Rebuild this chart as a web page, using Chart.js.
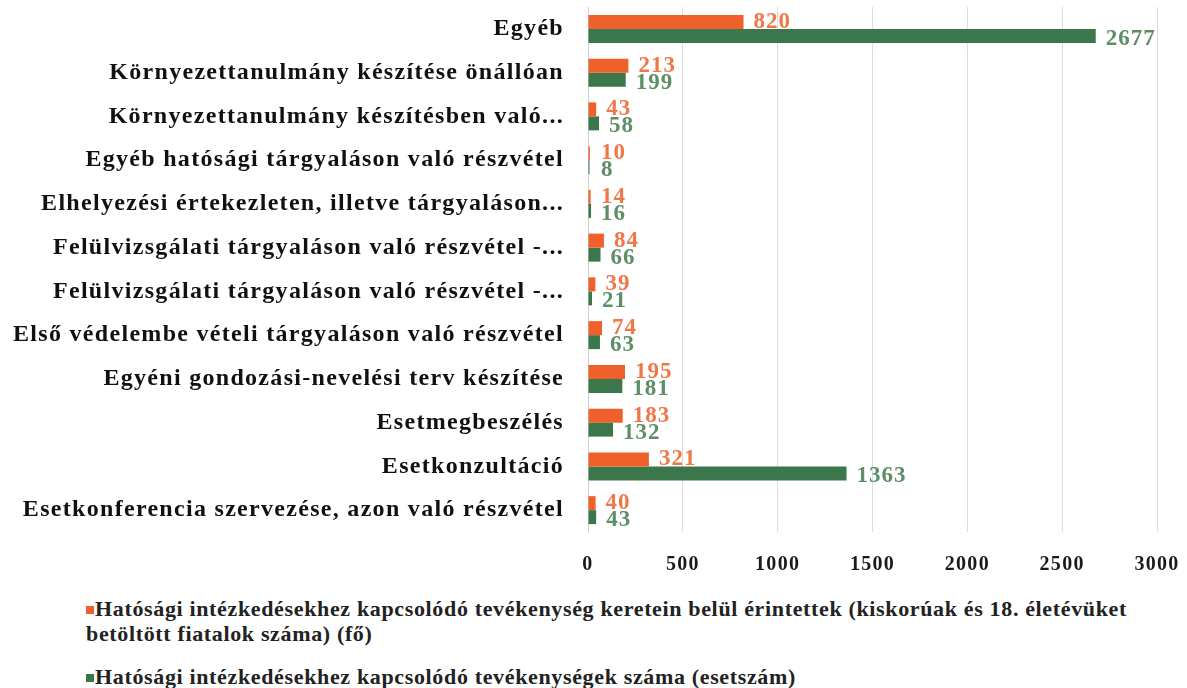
<!DOCTYPE html>
<html>
<head>
<meta charset="utf-8">
<script src="https://cdn.jsdelivr.net/npm/chart.js@4.4.1/dist/chart.umd.min.js"></script>
<style>
  html, body { margin: 0; padding: 0; background: #fff; }
  #wrap { position: relative; width: 1187px; height: 688px; }
  #c { position: absolute; left: 0; top: 0; }
  .leg { position: absolute; left: 86px; font-family: "Liberation Serif", serif; font-weight: bold; font-size: 22px; letter-spacing: 0.65px; color: #222; white-space: nowrap; line-height: 25px; }
  .leg .sq { display: inline-block; width: 8px; height: 8px; margin-right: 1px; vertical-align: 2px; }
</style>
</head>
<body>
<div id="wrap">
  <canvas id="c" width="1187" height="592"></canvas>
  <div class="leg" id="leg1" style="top:596px;"></div>
  <div class="leg" id="leg2" style="top:664px;"></div>
</div>
<script>
const categories = [
  "Egyéb",
  "Környezettanulmány készítése önállóan",
  "Környezettanulmány készítésben való...",
  "Egyéb hatósági tárgyaláson való részvétel",
  "Elhelyezési értekezleten, illetve tárgyaláson...",
  "Felülvizsgálati tárgyaláson való részvétel -...",
  "Felülvizsgálati tárgyaláson való részvétel -...",
  "Első védelembe vételi tárgyaláson való részvétel",
  "Egyéni gondozási-nevelési terv készítése",
  "Esetmegbeszélés",
  "Esetkonzultáció",
  "Esetkonferencia szervezése, azon való részvétel"
];
const seriesNames = [
  "Hatósági intézkedésekhez kapcsolódó tevékenység keretein belül érintettek (kiskorúak és 18. életévüket",
  "betöltött fiatalok száma) (fő)",
  "Hatósági intézkedésekhez kapcsolódó tevékenységek száma (esetszám)"
];
const personsValues = [820, 213, 43, 10, 14, 84, 39, 74, 195, 183, 321, 40];
const casesValues = [2677, 199, 58, 8, 16, 66, 21, 63, 181, 132, 1363, 43];
const xTicks = [0, 500, 1000, 1500, 2000, 2500, 3000];

const orange = "#F0602A";
const green = "#3B774B";
const orangeLabel = "#F07848";
const greenLabel = "#5E8E66";

document.getElementById('leg1').innerHTML =
  '<span class="sq" style="background:' + orange + '"></span>' + seriesNames[0] + '<br>' + seriesNames[1];
document.getElementById('leg2').innerHTML =
  '<span class="sq" style="background:' + green + '"></span>' + seriesNames[2];

const spacing = {
  id: 'spacing',
  beforeLayout(chart) { chart.ctx.letterSpacing = '1.3px'; },
  beforeDraw(chart) { chart.ctx.letterSpacing = '1.3px'; }
};

const valueLabels = {
  id: 'valueLabels',
  afterDatasetsDraw(chart) {
    const ctx = chart.ctx;
    ctx.save();
    ctx.letterSpacing = '1px';
    ctx.font = 'bold 23px "Liberation Serif", serif';
    ctx.textBaseline = 'middle';
    ctx.textAlign = 'left';
    chart.data.datasets.forEach((ds, di) => {
      const meta = chart.getDatasetMeta(di);
      ctx.fillStyle = di === 0 ? orangeLabel : greenLabel;
      meta.data.forEach((bar, i) => {
        const x = Math.max(bar.x, chart.scales.x.getPixelForValue(0) + 3) + 10;
        const y = bar.y + (di === 0 ? 0 : 3);
        ctx.fillText(String(ds.data[i]), x, y);
      });
    });
    ctx.restore();
  }
};

new Chart(document.getElementById('c'), {
  type: 'bar',
  data: {
    labels: categories,
    datasets: [
      { label: seriesNames[0] + ' ' + seriesNames[1], data: personsValues, backgroundColor: orange, categoryPercentage: 0.64, barPercentage: 1.0 },
      { label: seriesNames[2], data: casesValues, backgroundColor: green, categoryPercentage: 0.64, barPercentage: 1.0 }
    ]
  },
  options: {
    indexAxis: 'y',
    responsive: false,
    animation: false,
    layout: { padding: { left: 0, right: 30, top: 7, bottom: 15 } },
    plugins: { legend: { display: false }, tooltip: { enabled: false } },
    scales: {
      x: {
        min: 0, max: 3000,
        afterBuildTicks(scale) { scale.ticks = xTicks.map(v => ({ value: v })); },
        grid: { color: '#dcdcdc', lineWidth: 1, drawTicks: true, tickLength: 21, tickColor: 'rgba(0,0,0,0)' },
        border: { display: false },
        ticks: { color: '#1a1a1a', padding: 0, callback: v => String(v), font: { family: '"Liberation Serif", serif', weight: 'bold', size: 20 } }
      },
      y: {
        afterFit(scale) { scale.width = 588; },
        grid: { display: false, drawTicks: true, tickLength: 24, tickColor: 'rgba(0,0,0,0)' },
        border: { display: true, color: '#d0d0d0' },
        ticks: { color: '#111', padding: 0, autoSkip: false, font: { family: '"Liberation Serif", serif', weight: 'bold', size: 24, lineHeight: 0.5 } }
      }
    }
  },
  plugins: [spacing, valueLabels]
});
</script>
</body>
</html>
